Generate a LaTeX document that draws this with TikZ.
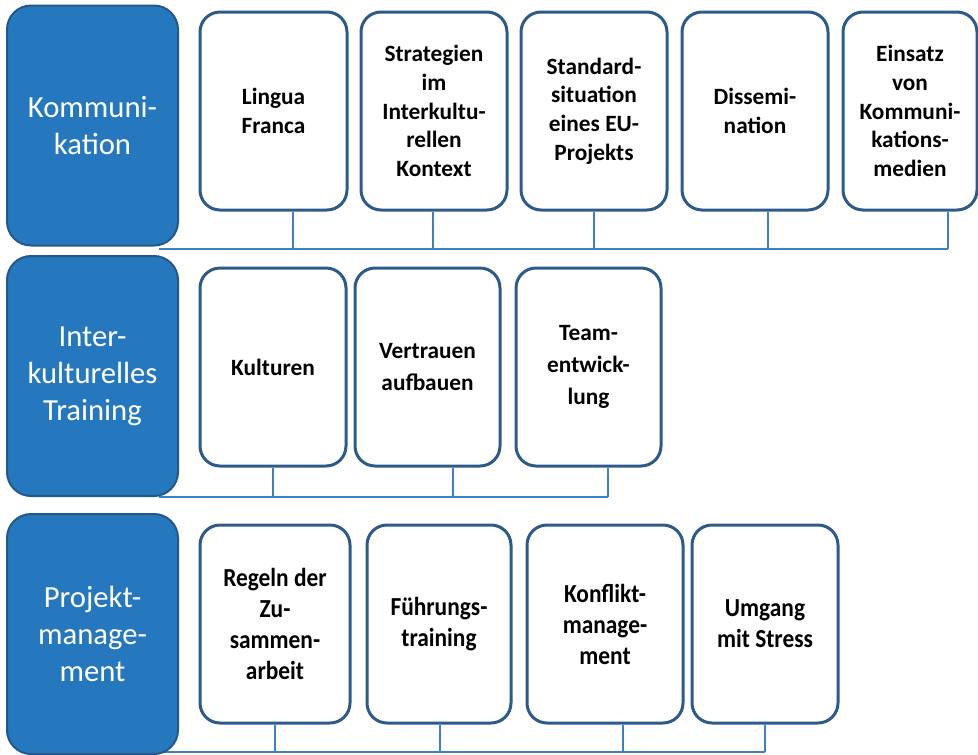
\documentclass[tikz,border=0pt]{standalone}
\usepackage{fontspec}
\setmainfont{Carlito}
\newfontfamily\condfont[FakeStretch=0.9]{Carlito}
\usetikzlibrary{backgrounds}
\definecolor{catfill}{RGB}{38,120,190}
\definecolor{catline}{RGB}{36,88,138}
\definecolor{boxline}{RGB}{46,90,138}
\definecolor{connline}{RGB}{62,128,196}
\begin{document}
\begin{tikzpicture}[x=0.75pt,y=-0.75pt,
 cat/.style={draw=catline, line width=1.5pt, fill=catfill, rounded corners=18pt,
   minimum width=128.25pt, minimum height=180pt, inner sep=0pt, align=center,
   text=white, font=\fontsize{23}{27.75}\selectfont},
 item/.style={draw=boxline, line width=2.25pt, fill=white, rounded corners=15pt,
   minimum height=148.5pt, inner sep=0pt, align=center,
   font=\bfseries\fontsize{17.5}{21.5}\selectfont},
 itemb/.style={item, font=\bfseries\fontsize{17.5}{24}\selectfont},
 itemc/.style={item, font=\condfont\bfseries\fontsize{19.5}{23.25}\selectfont},
 conn/.style={draw=connline, line width=1.5pt}]
\useasboundingbox (0,0) rectangle (978,754);

% Row 1
\node[cat] (K1) at (92.5,125.5) {Kommuni-\\kation};
\node[item, minimum width=110.25pt] (L1) at (273.5,111) {Lingua\\Franca};
\node[item, minimum width=109.5pt] (S1) at (434,111) {Strategien\\im\\Interkultu-\\rellen\\Kontext};
\node[item, minimum width=109.5pt] (T1) at (594,111) {Standard-\\situation\\eines EU-\\Projekts};
\node[item, minimum width=109.5pt] (D1) at (755,111) {Dissemi-\\nation};
\node[item, minimum width=100.5pt] (E1) at (910,111) {Einsatz\\von\\Kommuni-\\kations-\\medien};

% Row 2
\node[cat] (K2) at (92.5,376) {Inter-\\kulturelles\\Training};
\node[itemb, minimum width=109.5pt] (L2) at (273,367) {Kulturen};
\node[itemb, minimum width=108.75pt] (S2) at (427.5,367) {Vertrauen\\aufbauen};
\node[itemb, minimum width=108.75pt] (T2) at (588.5,367) {Team-\\entwick-\\lung};

% Row 3
\node[cat] (K3) at (92.5,634) {Projekt-\\manage-\\ment};
\node[itemc, minimum width=112.5pt] (L3) at (275,624) {Regeln der\\Zu-\\sammen-\\arbeit};
\node[itemc, minimum width=108pt] (S3) at (439,624) {Führungs-\\training};
\node[itemc, minimum width=117pt] (T3) at (605,624) {Konflikt-\\manage-\\ment};
\node[itemc, minimum width=109.5pt] (U3) at (765,624) {Umgang\\mit Stress};

\begin{scope}[on background layer]
 \coordinate (h1) at ([xshift=-15pt,yshift=-1.5pt]K1.south east);
 \foreach \n/\d in {L1/14.625pt, S1/-0.75pt, T1/0pt, D1/9.75pt, E1/28.5pt}
   \draw[conn] ([xshift=\d]\n.south) -- ([xshift=\d]\n.south |- h1);
 \draw[conn] (h1) -- ([xshift=28.5pt]E1.south |- h1);

 \coordinate (h2) at ([xshift=-15pt]K2.south east);
 \foreach \n/\d in {L2/0pt, S2/19.125pt, T2/14.625pt}
   \draw[conn] ([xshift=\d]\n.south) -- ([xshift=\d]\n.south |- h2);
 \draw[conn] (h2) -- ([xshift=14.625pt]T2.south |- h2);

 \coordinate (h3) at ([xshift=-15pt,yshift=2pt]K3.south east);
 \foreach \n/\d in {L3/0pt, S3/0.75pt, T3/13.5pt, U3/0pt}
   \draw[conn] ([xshift=\d]\n.south) -- ([xshift=\d]\n.south |- h3);
 \draw[conn] (h3) -- (U3.south |- h3);
\end{scope}
\end{tikzpicture}
\end{document}
